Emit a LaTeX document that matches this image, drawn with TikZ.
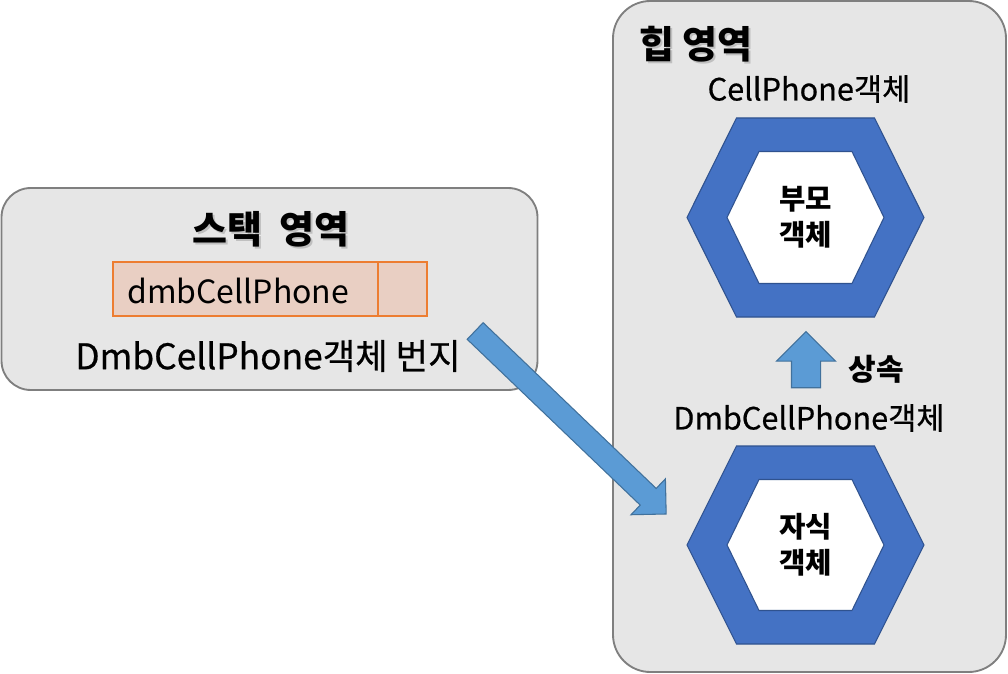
\documentclass[tikz,border=0pt]{standalone}
\usepackage{fontspec}
\setmainfont{Noto Sans CJK KR}
\newfontfamily\medfont{Noto Sans CJK KR}[FakeBold=0.6]
\usetikzlibrary{shapes.arrows,calc}
\definecolor{boxgray}{HTML}{E6E6E6}
\definecolor{edgegray}{HTML}{7F7F7F}
\definecolor{ora}{HTML}{ED7D31}
\definecolor{orafill}{HTML}{E9CFC3}
\definecolor{hexblue}{HTML}{4472C4}
\definecolor{hexedge}{HTML}{2F528F}
\definecolor{arrblue}{HTML}{5B9BD5}
\definecolor{arredge}{HTML}{41719C}
\tikzset{
  region/.style={draw=edgegray, fill=boxgray, line width=1.4pt, inner sep=0pt},
  title/.style={font=\bfseries\fontsize{28.5}{32}\selectfont, inner sep=0pt},
  shadowtxt/.style={title, text=black!25},
  label/.style={font=\medfont\fontsize{26.5}{30}\selectfont, inner sep=0pt},
  smalllabel/.style={font=\medfont\fontsize{23}{27}\selectfont, inner sep=0pt},
  cell/.style={draw=ora, fill=orafill, line width=1.3pt, inner sep=0pt, minimum height=40.5pt},
  hexlabel/.style={font=\bfseries\fontsize{21.5}{27}\selectfont, align=center, inner sep=0pt},
  outerhex/.style={fill=hexblue, draw=hexedge, line width=0.8pt},
  innerhex/.style={fill=white, draw=hexedge, line width=0.8pt},
  blockarrow/.style={single arrow, fill=arrblue, draw=arredge, line width=0.8pt,
    inner xsep=0pt, minimum width=0pt, single arrow head indent=0pt, single arrow tip angle=90},
}
\begin{document}
\begin{tikzpicture}[x=0.75pt,y=-0.75pt]
\useasboundingbox (0,0) rectangle (1008,674);

% regions
\node[region, minimum width=402pt, minimum height=151.5pt, rounded corners=22pt] (stack) at (269.5,289) {};
\node[region, minimum width=294.75pt, minimum height=503.25pt, rounded corners=28pt] (heap) at (809.5,336.5) {};

% stack contents
\node[shadowtxt] at (273,231) {스택\hspace{0.45em}영역};
\node[title] (stacktitle) at (271,229) {스택\hspace{0.45em}영역};
\node[cell, minimum width=198.75pt] (var) at (245.5,289) {};
\node[cell, minimum width=36.75pt] (val) at (402.5,289) {};
\node[font=\fontsize{24}{28}\selectfont, anchor=west, inner sep=0pt] (varname) at (127,291) {dmbCellPhone};
\node[label] (addr) at (268,356) {DmbCellPhone객체 번지};

% heap contents
\node[shadowtxt] at (698,46) {힙 영역};
\node[title] (heaptitle) at (696,44) {힙 영역};
\node[smalllabel] (cellname) at (809,89) {CellPhone객체};
\node[smalllabel] (dmbname) at (809,418) {DmbCellPhone객체};

\coordinate (parent) at (805.5,217.5);
\coordinate (child) at (805.5,545);
\begin{scope}[shift={(parent)}]
  \path[outerhex] (-118.5,0) -- (-69,-99.5) -- (69,-99.5) -- (118.5,0) -- (69,99.5) -- (-69,99.5) -- cycle;
  \path[innerhex] (-78.5,0) -- (-46.5,-66) -- (46.5,-66) -- (78.5,0) -- (46.5,66) -- (-46.5,66) -- cycle;
\end{scope}
\begin{scope}[shift={(child)}]
  \path[outerhex] (-118.5,0) -- (-69,-99) -- (69,-99) -- (118.5,0) -- (69,99) -- (-69,99) -- cycle;
  \path[innerhex] (-78.5,0) -- (-46.5,-65.5) -- (46.5,-65.5) -- (78.5,0) -- (46.5,65.5) -- (-46.5,65.5) -- cycle;
\end{scope}
\node[hexlabel] (parentlabel) at (parent) {부모\\객체};
\node[hexlabel] (childlabel) at (child) {자식\\객체};

% inheritance arrow
\coordinate (upTail) at (806,395);
\coordinate (upTip) at (806,339);
\path let \p1=($(upTip)-(upTail)$), \n1={atan2(\y1,\x1)}, \n2={veclen(\x1,\y1)} in
  node[blockarrow, inner ysep=10.5pt, single arrow head extend=11.2pt, rotate=\n1, minimum height=\n2] (inherit) at ($(upTail)!0.5!(upTip)$) {};
\node[hexlabel, font=\bfseries\fontsize{22.5}{27}\selectfont] (inheritlabel) at (876,369) {상속};

% reference arrow
\coordinate (refTail) at (471,327);
\coordinate (refTip) at (662,510);
\path let \p1=($(refTip)-(refTail)$), \n1={atan2(\y1,\x1)}, \n2={veclen(\x1,\y1)} in
  node[blockarrow, inner ysep=8.25pt, single arrow head extend=10pt, rotate=\n1, minimum height=\n2] (ref) at ($(refTail)!0.5!(refTip)$) {};
\end{tikzpicture}
\end{document}
